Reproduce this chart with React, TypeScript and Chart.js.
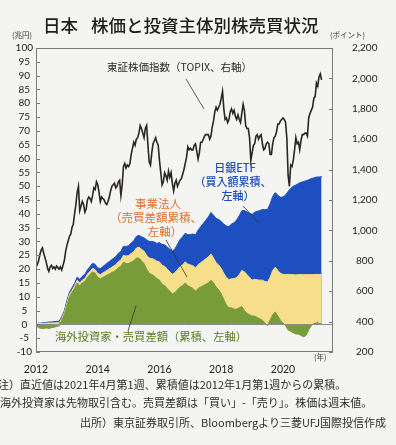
import React, { useEffect, useRef } from "react";
import { Chart, registerables } from "chart.js";

Chart.register(...registerables);

// ---- data ----
const START_YEAR = 2012;
const X_MAX = 2021.62;

// TOPIX, about twice a month (points), right axis
const topix: number[] = [
  // 2012
  760, 775, 800, 840, 870, 885, 850, 820, 790, 750, 730, 760, 770, 750, 760, 745, 765, 755, 745, 760, 740, 770, 800, 860,
  // 2013
  900, 930, 960, 975, 1020, 1040, 1110, 1170, 1250, 1290, 1130, 1160, 1190, 1170, 1120, 1140, 1200, 1220, 1210, 1190, 1230, 1280, 1270, 1320,
  // 2014
  1300, 1250, 1190, 1220, 1210, 1200, 1180, 1170, 1190, 1220, 1260, 1290, 1300, 1310, 1280, 1290, 1320, 1330, 1230, 1300, 1420, 1440, 1410, 1430,
  // 2015
  1420, 1440, 1500, 1540, 1580, 1560, 1600, 1610, 1640, 1690, 1670, 1640, 1610, 1670, 1690, 1560, 1450, 1430, 1510, 1570, 1590, 1610, 1580, 1560,
  // 2016
  1460, 1380, 1300, 1320, 1380, 1360, 1330, 1390, 1350, 1380, 1310, 1260, 1310, 1330, 1290, 1310, 1330, 1340, 1370, 1400, 1440, 1480, 1550, 1530,
  // 2017
  1540, 1530, 1530, 1560, 1570, 1520, 1470, 1510, 1580, 1580, 1600, 1620, 1630, 1630, 1630, 1600, 1620, 1680, 1720, 1780, 1810, 1790, 1810, 1830,
  // 2018
  1870, 1915, 1800, 1730, 1740, 1710, 1730, 1780, 1800, 1770, 1790, 1750, 1730, 1760, 1730, 1710, 1770, 1830, 1790, 1690, 1670, 1670, 1610, 1460,
  // 2019
  1510, 1560, 1570, 1620, 1630, 1600, 1620, 1630, 1570, 1530, 1540, 1570, 1580, 1570, 1500, 1500, 1570, 1610, 1620, 1650, 1700, 1700, 1720, 1730,
  // 2020
  1740, 1730, 1710, 1610, 1360, 1290, 1430, 1420, 1460, 1530, 1610, 1570, 1580, 1530, 1590, 1630, 1630, 1640, 1640, 1620, 1740, 1770, 1790, 1810,
  // 2021
  1870, 1880, 1970, 1950, 2010, 2030, 1990,
];

// Monthly cumulative net buying (trillion yen), left axis
const foreignInvestors: number[] = [
  -0.5, -1.2, -1.5, -1.5, -1.3, -1.5, -1.2, -1.0, -0.8, -0.5, 1.5, 3.5,
  7, 10, 11.5, 13, 15, 14, 15, 15.5, 17, 18, 19, 18.5,
  17, 16.5, 17, 17.5, 18, 18.5, 19, 19.5, 20.5, 21, 22.5, 22,
  22, 22.5, 23, 24, 24, 23, 22, 20, 18.5, 18, 17.5, 16.5,
  16, 14.5, 14, 13, 12, 11, 11.5, 12.5, 13.5, 14, 15, 14,
  13.5, 13, 12, 13, 13.5, 14, 14.5, 15, 16, 15, 13.5, 12.5,
  11, 9, 7, 6, 6, 5.5, 5.5, 6, 6.5, 5, 4, 3.5,
  3, 3, 2.5, 2, 1.5, 0.5, -0.5, 1.5, 3.5, 4.5, 3, 1.5,
  0.5, -0.5, -2, -2.5, -3, -3.5, -3.5, -4, -4.5, -4, -2, -0.5,
  0.3, 0.5, 0.3, 0.3,
];

const corporations: number[] = [
  0.2, 0.3, 0.3, 0.4, 0.4, 0.5, 0.5, 0.5, 0.6, 0.6, 0.6, 0.7,
  0.7, 0.8, 0.8, 0.9, 1.0, 1.0, 1.0, 1.1, 1.2, 1.2, 1.3, 1.3,
  1.4, 1.5, 1.6, 1.7, 1.8, 1.9, 2.0, 2.1, 2.2, 2.3, 2.5, 2.7,
  2.9, 3.1, 3.3, 3.6, 3.9, 4.2, 4.5, 5.0, 5.5, 5.8, 6.0, 6.3,
  6.6, 6.9, 7.0, 7.0, 7.0, 7.1, 7.2, 7.3, 7.4, 7.5, 7.6, 7.8,
  8.0, 8.2, 8.4, 8.6, 8.8, 9.0, 9.2, 9.4, 9.5, 9.0, 8.8, 9.0,
  9.2, 9.5, 10.0, 10.2, 10.5, 11.0, 11.5, 12.0, 13.0, 14.0, 14.0, 13.5,
  13.0, 13.3, 13.6, 14.0, 14.5, 15.0, 15.3, 15.5, 16.0, 16.2, 16.5, 17.0,
  17.6, 18.0, 18.1, 18.0, 18.0, 17.9, 18.0, 18.0, 18.0, 18.0, 18.0, 18.0,
  17.7, 17.6, 17.7, 17.7,
];

const bojEtf: number[] = [
  0.05, 0.1, 0.15, 0.2, 0.3, 0.35, 0.4, 0.45, 0.5, 0.55, 0.65, 0.7,
  0.8, 0.85, 0.9, 1.0, 1.1, 1.3, 1.4, 1.5, 1.6, 1.7, 1.8, 1.9,
  2.0, 2.2, 2.3, 2.5, 2.6, 2.7, 2.8, 2.9, 3.0, 3.1, 3.3, 3.4,
  3.6, 3.8, 4.0, 4.2, 4.3, 4.5, 4.8, 5.6, 6.0, 6.2, 6.3, 6.5,
  7.0, 7.5, 7.8, 8.0, 8.2, 8.4, 8.6, 9.2, 9.8, 10.2, 10.4, 10.6,
  11.0, 11.5, 12.0, 12.5, 13.0, 13.5, 14.0, 14.5, 15.0, 15.5, 16.0, 16.5,
  17.0, 17.8, 18.6, 19.2, 19.8, 20.3, 20.8, 21.3, 21.6, 22.2, 22.7, 23.2,
  23.8, 24.3, 24.8, 25.2, 25.6, 26.0, 26.3, 26.6, 26.8, 27.0, 27.2, 27.5,
  28.0, 28.8, 30.0, 31.2, 32.0, 32.5, 33.0, 33.4, 33.7, 34.0, 34.3, 34.8,
  35.0, 35.2, 35.3, 35.5,
];

// small tick marks on the zero line (years)
const zeroLineTicks: number[] = [2012.75, 2014.05, 2015.4, 2016.8, 2018.3, 2019.7, 2021.1];

// ---- style ----
const BG = "#f4f4f2";
const GREEN = "#789c3a";
const YELLOW = "#f6de8a";
const BLUE = "#1d4fc1";
const LINE = "#2a2622";
const JP = "'Noto Sans CJK JP', 'Noto Sans', sans-serif";
const NUM = "Lato, 'Noto Sans', sans-serif";

const monthly = (arr: number[]) => arr.map((v, i) => ({ x: START_YEAR + i / 12, y: v }));
const semiMonthly = (arr: number[]) => arr.map((v, i) => ({ x: START_YEAR + i / 24, y: v }));

const framePlugin = {
  id: "frameAndMarks",
  afterDatasetsDraw(chart: any) {
    const { ctx, chartArea: a, scales } = chart;
    const ys = scales.y;
    const y1 = scales.y1;
    const xs = scales.x;
    ctx.save();
    ctx.lineWidth = 1;
    // zero line
    ctx.strokeStyle = "#8c8c8c";
    const z = Math.round(ys.getPixelForValue(0)) + 0.5;
    ctx.beginPath();
    ctx.moveTo(a.left, z);
    ctx.lineTo(a.right, z);
    for (const t of zeroLineTicks) {
      const px = Math.round(xs.getPixelForValue(t)) + 0.5;
      ctx.moveTo(px, z);
      ctx.lineTo(px, z - 3);
    }
    ctx.stroke();
    // frame
    ctx.strokeStyle = "#7a7a7a";
    ctx.strokeRect(Math.round(a.left) + 0.5, Math.round(a.top) + 0.5, Math.round(a.width) - 1, Math.round(a.height) - 1);
    ctx.beginPath();
    for (const t of ys.ticks) {
      const py = Math.round(ys.getPixelForValue(t.value)) + 0.5;
      ctx.moveTo(a.left, py);
      ctx.lineTo(a.left + 4, py);
    }
    for (const t of y1.ticks) {
      const py = Math.round(y1.getPixelForValue(t.value)) + 0.5;
      ctx.moveTo(a.right - 4, py);
      ctx.lineTo(a.right, py);
    }
    ctx.stroke();
    // callout lines
    ctx.strokeStyle = "#333";
    ctx.lineWidth = 0.8;
    const lines = [
      [186, 79, 204, 109],
      [243, 206, 258, 222],
      [166, 240, 187, 277],
      [128, 331, 136, 306],
    ];
    ctx.beginPath();
    for (const [x1, yy1, x2, yy2] of lines) {
      ctx.moveTo(x1, yy1);
      ctx.lineTo(x2, yy2);
    }
    ctx.stroke();
    ctx.restore();
  },
};

function Txt(props: {
  x: number;
  y: number;
  size: number;
  color?: string;
  align?: "left" | "center";
  weight?: number;
  family?: string;
  children: React.ReactNode;
}) {
  const { x, y, size, color = "#2a2a2a", align = "left", weight = 400, family = JP, children } = props;
  return (
    <div
      style={{
        position: "absolute",
        left: x,
        top: y,
        transform: align === "center" ? "translate(-50%, -50%)" : "translateY(-50%)",
        fontSize: size,
        lineHeight: 1,
        whiteSpace: "nowrap",
        color,
        fontWeight: weight,
        fontFamily: family,
      }}
    >
      {children}
    </div>
  );
}

export default function App() {
  const ref = useRef<HTMLCanvasElement | null>(null);

  useEffect(() => {
    if (!ref.current) return;
    const tickFont = { family: NUM, size: 10 };
    const chart = new Chart(ref.current, {
      type: "line",
      data: {
        datasets: [
          {
            label: "海外投資家・売買差額（累積、左軸）",
            data: monthly(foreignInvestors),
            yAxisID: "y",
            stack: "flows",
            backgroundColor: GREEN,
            borderColor: GREEN,
            borderWidth: 1,
            fill: "origin",
            pointRadius: 0,
            tension: 0,
          },
          {
            label: "事業法人（売買差額累積、左軸）",
            data: monthly(corporations),
            yAxisID: "y",
            stack: "flows",
            backgroundColor: YELLOW,
            borderColor: YELLOW,
            borderWidth: 1,
            fill: "origin",
            pointRadius: 0,
            tension: 0,
          },
          {
            label: "日銀ETF（買入額累積、左軸）",
            data: monthly(bojEtf),
            yAxisID: "y",
            stack: "flows",
            backgroundColor: BLUE,
            borderColor: BLUE,
            borderWidth: 1,
            fill: "origin",
            pointRadius: 0,
            tension: 0,
          },
          {
            label: "東証株価指数（TOPIX、右軸）",
            data: semiMonthly(topix),
            yAxisID: "y1",
            borderColor: LINE,
            borderWidth: 1.6,
            fill: false,
            pointRadius: 0,
            tension: 0,
            order: -1,
          },
        ],
      },
      options: {
        animation: false,
        responsive: false,
        devicePixelRatio: 1,
        layout: { padding: { top: 48, left: 0, right: 0, bottom: 0 } },
        plugins: { legend: { display: false }, tooltip: { enabled: false } },
        scales: {
          x: {
            type: "linear",
            min: START_YEAR,
            max: X_MAX,
            grid: { display: false, drawTicks: false },
            border: { display: false },
            ticks: {
              stepSize: 2,
              includeBounds: false,
              autoSkip: false,
              maxRotation: 0,
              padding: 11,
              font: { family: NUM, size: 10.5 },
              color: "#222",
              callback: (v: any) => String(v),
            },
            afterFit: (s: any) => {
              s.height = 93;
            },
          },
          y: {
            position: "left",
            stacked: true,
            min: -10,
            max: 100,
            grid: { display: false, drawTicks: false },
            border: { display: false },
            ticks: { stepSize: 5, autoSkip: false, crossAlign: "center", padding: 3, font: tickFont, color: "#222" },
            afterFit: (s: any) => {
              s.width = 36;
            },
          },
          y1: {
            position: "right",
            min: 200,
            max: 2200,
            grid: { display: false, drawTicks: false },
            border: { display: false },
            ticks: {
              stepSize: 200,
              autoSkip: false,
              crossAlign: "center",
              padding: 19,
              font: tickFont,
              color: "#222",
              callback: (v: any) => Number(v).toLocaleString("en-US"),
            },
            afterFit: (s: any) => {
              s.width = 63;
            },
          },
        },
      },
      plugins: [framePlugin],
    } as any);
    return () => chart.destroy();
  }, []);

  return (
    <div
      style={{
        position: "fixed",
        left: 0,
        top: 0,
        width: 396,
        height: 445,
        background: BG,
        overflow: "hidden",
        fontFamily: JP,
      }}
    >
      <canvas ref={ref} width={396} height={445} style={{ position: "absolute", left: 0, top: 0, width: 396, height: 445 }} />
      <Txt x={43} y={25} size={17.5} color="#1e1e1e" weight={500}>
        日本<span style={{ fontSize: 13 }}>{"\u3000"}</span>株価と投資主体別株売買状況
      </Txt>
      <Txt x={12} y={35} size={7.5} color="#333">(兆円)</Txt>
      <Txt x={330} y={35} size={7.5} color="#333">(ポイント)</Txt>
      <Txt x={314} y={357} size={7.5} color="#333">(年)</Txt>

      <Txt x={107} y={67} size={10.5} color="#2a2a2a">東証株価指数（TOPIX、右軸）</Txt>

      <Txt x={235} y={167} size={11} color={BLUE} align="center" weight={500}>日銀ETF</Txt>
      <Txt x={233} y={181} size={11} color={BLUE} align="center" weight={500}>（買入額累積、</Txt>
      <Txt x={238} y={195} size={11} color={BLUE} align="center" weight={500}>左軸）</Txt>

      <Txt x={158} y={204} size={11.5} color="#e0702a" align="center">事業法人</Txt>
      <Txt x={156} y={218} size={11.5} color="#e0702a" align="center">（売買差額累積、</Txt>
      <Txt x={165} y={232} size={11.5} color="#e0702a" align="center">左軸）</Txt>

      <Txt x={55} y={337} size={11.3} color="#587c28">海外投資家・売買差額（累積、左軸）</Txt>

      <Txt x={-2} y={384} size={11} color="#2e2e2e">注）直近値は2021年4月第1週、累積値は2012年1月第1週からの累積。</Txt>
      <Txt x={0} y={402} size={11} color="#2e2e2e">海外投資家は先物取引含む。売買差額は「買い」-「売り」。株価は週末値。</Txt>
      <Txt x={80} y={422} size={11} color="#2e2e2e">出所）東京証券取引所、Bloombergより三菱UFJ国際投信作成</Txt>
    </div>
  );
}
